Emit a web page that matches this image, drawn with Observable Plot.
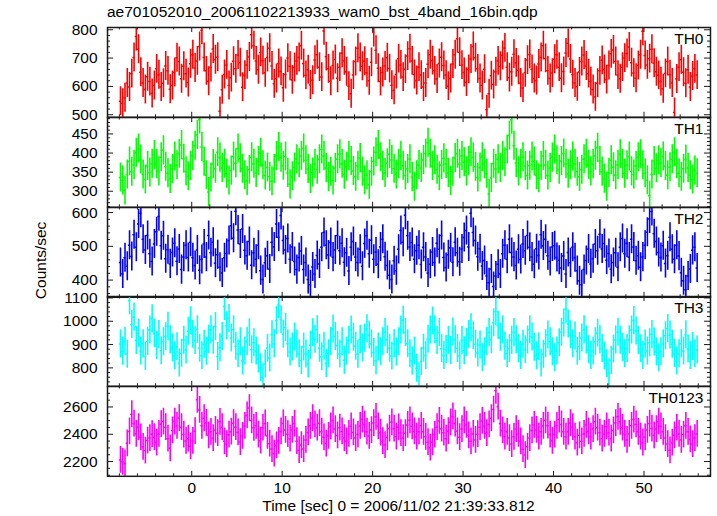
<!DOCTYPE html>
<html>
<head>
<meta charset="utf-8">
<script src="https://cdn.jsdelivr.net/npm/d3@7"></script>
<script src="https://cdn.jsdelivr.net/npm/@observablehq/plot@0.6"></script>
<style>
  html, body { margin: 0; padding: 0; background: #fff; }
  #chart { position: relative; width: 717px; height: 516px; font-family: "Liberation Sans", Arial, Helvetica, sans-serif; color: #000; }
  #chart svg { position: absolute; left: 0; overflow: visible; background: transparent; }
  #title { position: absolute; left: 107px; top: 3px; font-size: 15.5px; line-height: 17px; white-space: nowrap; }
</style>
</head>
<body>
<div id="chart"><div id="title"></div></div>
<script>
// ---------------- data ----------------
const titleText = "ae701052010_20061102213933_wam0_bst_4band_16bin.qdp";
const xCaption = "Time [sec] 0 = 2006/11/02 21:39:33.812";
const yCaption = "Counts/sec";

const bandNames = ["TH0", "TH1", "TH2", "TH3", "TH0123"];
const bandColors = ["#ff0000", "#00ff00", "#0000ff", "#00ffff", "#ff00ff"];

// first bin centre and bin width (s) of the 16-bin light curve
const firstBinCentre = -7.875;
const binWidth = 0.25;

// 1-sigma half error bars (counts/sec)
const errHalf = [51, 38, 43, 60, 98];

const th0 = [
  548,541,560,612,598,645,702,776,731,650,612,589,634,617,575,603,
  662,641,598,611,672,655,590,603,649,701,688,627,671,645,614,680,
  712,665,690,741,798,702,655,618,667,732,694,703,512,588,642,676,
  603,631,689,662,711,684,597,640,676,704,782,744,690,659,720,691,
  648,702,735,672,609,628,681,653,595,642,700,671,623,667,690,702,
  744,681,639,659,605,622,693,712,668,633,796,705,662,618,674,695,
  629,668,717,690,652,601,574,640,688,735,702,671,689,648,620,685,
  790,728,664,617,649,672,701,663,604,586,642,698,676,633,661,707,
  733,690,642,621,668,640,598,612,678,712,691,655,626,681,703,674,
  640,601,628,679,712,768,721,675,649,615,660,697,741,701,662,628,
  603,661,518,574,638,607,652,690,671,709,736,668,631,652,714,683,
  657,612,594,648,693,713,660,628,621,679,702,744,699,655,628,647,
  696,712,668,629,653,718,752,697,641,612,599,651,688,711,672,645,
  617,589,563,611,655,692,660,624,674,715,729,688,640,627,668,700,
  716,739,684,647,629,674,712,795,709,676,698,731,682,652,639,617,
  592,646,688,641,612,508,626,668,694,650,611,659,598,637,662,640
];
const th1 = [
  336,328,302,344,378,351,369,401,412,383,344,331,366,349,372,395,
  371,352,389,407,364,347,332,358,391,368,398,421,385,352,339,366,
  392,419,447,488,416,377,342,298,336,371,359,402,388,361,372,346,
  328,354,391,373,412,386,359,342,327,356,389,372,348,379,401,368,
  341,362,338,326,358,392,416,388,367,391,348,318,339,362,384,373,
  392,412,381,358,332,349,371,356,384,409,392,361,337,351,328,361,
  384,397,372,343,364,392,379,353,338,366,387,351,329,342,317,351,
  378,402,421,389,366,348,373,397,382,359,344,371,392,367,341,358,
  384,337,312,342,369,361,382,399,427,398,366,381,356,339,369,386,
  371,348,327,351,387,398,371,392,376,352,379,402,388,364,336,362,
  389,371,346,293,335,372,358,384,361,392,376,409,446,487,419,374,
  352,371,389,366,341,367,391,378,342,334,367,392,369,341,361,388,
  409,381,356,379,399,371,346,368,391,372,351,338,356,384,398,369,
  352,371,393,414,379,351,333,312,348,381,363,342,369,397,371,346,
  368,391,352,344,366,389,397,368,347,329,288,344,379,360,381,374,
  391,366,342,363,384,402,371,347,338,359,383,361,342,331,354,347
];
const th2 = [
  452,418,466,441,503,470,534,497,566,598,521,489,532,478,455,507,
  543,588,502,531,463,490,448,482,509,456,492,431,468,503,467,512,
  466,443,489,429,461,507,468,532,481,512,450,475,438,421,466,479,
  517,561,524,604,548,507,551,488,472,514,444,481,462,503,428,402,
  451,472,433,512,498,566,527,591,517,489,523,462,498,455,431,467,
  486,431,452,402,386,439,418,473,448,497,541,503,474,511,468,489,
  532,487,509,453,481,427,497,514,468,452,491,441,508,531,478,518,
  462,483,447,498,521,469,443,414,402,457,428,491,547,512,592,531,
  498,511,462,487,503,446,497,468,421,447,483,452,509,491,532,467,
  437,475,496,453,512,481,454,492,526,547,498,598,541,517,469,493,
  442,458,412,392,433,381,412,447,418,478,503,462,521,482,468,443,
  491,461,507,487,532,497,468,447,493,473,534,501,521,472,455,498,
  502,467,459,436,471,418,482,451,497,466,428,398,386,431,458,492,
  448,463,507,487,536,492,508,459,479,432,452,481,438,497,523,478,
  509,468,521,498,457,472,438,468,503,542,581,603,537,514,482,467,
  502,449,472,527,491,462,503,471,422,398,371,412,433,488,497,436
];
const th3 = [
  902,871,914,858,1088,986,1017,917,948,872,903,849,913,962,1011,947,
  896,943,873,912,934,978,921,886,852,891,821,863,918,877,957,1002,
  944,917,964,884,852,901,871,922,963,918,977,849,886,935,1063,981,
  1012,928,963,893,861,912,829,872,913,951,878,908,872,838,801,758,
  817,884,842,942,903,1003,1071,1006,944,973,903,868,889,932,902,861,
  832,889,859,817,897,951,923,964,884,848,893,819,861,913,967,934,
  896,859,912,833,871,918,962,931,893,858,922,886,927,968,941,902,
  866,831,889,869,912,953,921,884,851,903,868,912,962,1004,952,903,
  861,829,872,798,762,827,884,853,923,962,1001,963,917,952,882,853,
  879,918,874,954,921,883,851,917,873,909,943,972,938,901,864,898,
  843,869,913,952,921,993,1042,982,931,962,893,862,883,918,952,921,
  882,853,901,878,919,963,932,888,852,891,821,858,903,941,912,869,
  843,872,908,953,992,1051,988,942,903,937,871,892,928,963,919,878,
  853,872,912,948,921,883,851,818,779,832,881,919,953,918,887,861,
  883,921,962,1003,958,917,882,853,902,872,908,943,911,868,843,869,
  902,938,969,941,901,862,829,861,903,872,942,881,853,892,861,877
];
const th0123 = [
  2212,2198,2186,2334,2421,2547,2478,2403,2452,2378,2308,2281,2354,2372,2401,2379,
  2338,2402,2474,2493,2452,2368,2297,2428,2493,2461,2519,2452,2398,2351,2368,2312,
  2351,2423,2652,2578,2462,2518,2483,2392,2418,2371,2432,2408,2491,2452,2348,2328,
  2397,2419,2481,2452,2413,2343,2388,2461,2538,2592,2501,2447,2462,2398,2353,2448,
  2479,2388,2331,2292,2259,2318,2351,2421,2479,2432,2401,2368,2432,2478,2349,2283,
  2321,2292,2358,2413,2462,2519,2472,2448,2481,2419,2378,2332,2388,2457,2501,2438,
  2391,2448,2421,2372,2348,2402,2458,2413,2372,2398,2461,2508,2472,2419,2388,2431,
  2482,2528,2458,2412,2349,2321,2378,2442,2488,2441,2382,2451,2409,2372,2408,2468,
  2502,2458,2421,2382,2419,2462,2418,2381,2342,2302,2341,2398,2452,2498,2441,2412,
  2368,2423,2488,2531,2478,2422,2379,2438,2502,2468,2391,2348,2402,2358,2401,2452,
  2498,2461,2408,2472,2518,2581,2718,2602,2478,2428,2382,2418,2372,2328,2381,2438,
  2402,2348,2291,2248,2308,2372,2428,2468,2432,2382,2418,2461,2502,2463,2398,2352,
  2398,2462,2508,2472,2418,2382,2418,2481,2452,2382,2338,2392,2348,2402,2468,2421,
  2382,2438,2492,2448,2412,2368,2402,2458,2412,2368,2428,2482,2528,2491,2448,2402,
  2358,2402,2462,2508,2472,2418,2382,2338,2378,2432,2478,2442,2392,2438,2492,2458,
  2418,2372,2328,2282,2338,2392,2448,2402,2358,2398,2462,2418,2362,2328,2372,2402
];
const bandValues = [th0, th1, th2, th3, th0123];

// axis ticks
const xMajorTicks = [0, 10, 20, 30, 40, 50];
const xMinorTicks = [-8,-6,-4,-2,2,4,6,8,12,14,16,18,22,24,26,28,32,34,36,38,42,44,46,48,52,54,56];
const yMajorTicks = [
  [500, 600, 700, 800],
  [300, 350, 400, 450],
  [400, 500, 600],
  [800, 900, 1000, 1100],
  [2200, 2400, 2600]
];
const yMinorStep = [20, 10, 20, 20, 50];

// scale domains
const xDomain = [-9.31, 57.35];
const yDomains = [[491, 808], [258, 493], [349, 615], [721, 1106], [2092, 2750]];

// ---------------- drawing ----------------
const chart = document.getElementById("chart");
document.getElementById("title").textContent = titleText;

const W = 717, ML = 107, MR = 7;
const panelTop = 27, panelH = 89.8;
const innerW = W - ML - MR;
const frameColor = "#1a1a1a";
const font = '"Liberation Sans", Arial, Helvetica, sans-serif';
const fs = 15.5;

bandValues.forEach((vals, i) => {
  const rows = vals.map((v, k) => ({t: firstBinCentre + k * binWidth, v}));
  const e = errHalf[i];
  const color = bandColors[i];
  const isLast = i === bandValues.length - 1;
  const mb = isLast ? 45 : 0;
  const [y0, y1] = yDomains[i];
  const yMinor = d3.range(Math.ceil(y0 / yMinorStep[i]) * yMinorStep[i], y1, yMinorStep[i])
    .filter(v => !yMajorTicks[i].includes(v));

  const marks = [
    Plot.ruleX(rows, {x: "t", y1: d => d.v - e, y2: d => d.v + e, stroke: color, strokeWidth: 1.6, clip: true}),
    Plot.ruleY(rows, {y: "v", x1: d => d.t - binWidth / 2, x2: d => d.t + binWidth / 2, stroke: color, strokeWidth: 1.5, clip: true}),
    // inward tick marks on all four sides
    Plot.ruleX(xMinorTicks, {insetTop: panelH - 2.5, stroke: frameColor}),
    Plot.ruleX(xMinorTicks, {insetBottom: panelH - 2.5, stroke: frameColor}),
    Plot.ruleX(xMajorTicks, {insetTop: panelH - 5, stroke: frameColor}),
    Plot.ruleX(xMajorTicks, {insetBottom: panelH - 5, stroke: frameColor}),
    Plot.ruleY(yMinor, {insetLeft: innerW - 3, stroke: frameColor}),
    Plot.ruleY(yMinor, {insetRight: innerW - 3, stroke: frameColor}),
    Plot.ruleY(yMajorTicks[i], {insetLeft: innerW - 6, stroke: frameColor}),
    Plot.ruleY(yMajorTicks[i], {insetRight: innerW - 6, stroke: frameColor}),
    Plot.frame({stroke: frameColor, strokeWidth: 1.5}),
    Plot.axisY({ticks: yMajorTicks[i], tickSize: 0, tickPadding: 10, label: null, fontSize: fs, tickFormat: d => String(d)}),
    Plot.text([bandNames[i]], {text: d => d, frameAnchor: "top-right", textAnchor: "end", lineAnchor: "top", dx: -7, dy: 5, fontSize: fs, fill: "#000"})
  ];
  if (i === 2) {
    marks.push(Plot.text([yCaption], {text: d => d, frameAnchor: "left", dx: -66, dy: 8, rotate: -90, textAnchor: "middle", lineAnchor: "middle", fontSize: fs, fill: "#000"}));
  }
  if (isLast) {
    marks.push(Plot.axisX({ticks: xMajorTicks, tickSize: 0, tickPadding: 6, label: null, fontSize: fs, tickFormat: d => String(d)}));
    marks.push(Plot.text([xCaption], {text: d => d, frameAnchor: "bottom", lineAnchor: "top", dx: -10.5, dy: 24, fontSize: fs, fill: "#000"}));
  }

  const svg = Plot.plot({
    width: W,
    height: panelH + mb,
    marginLeft: ML,
    marginRight: MR,
    marginTop: 0,
    marginBottom: mb,
    x: {domain: xDomain, axis: null},
    y: {domain: yDomains[i], axis: null},
    style: {fontFamily: font, fontSize: fs + "px", overflow: "visible", background: "transparent", color: "#000"},
    marks
  });
  svg.style.top = (panelTop + i * panelH) + "px";
  chart.appendChild(svg);
});
</script>
</body>
</html>
